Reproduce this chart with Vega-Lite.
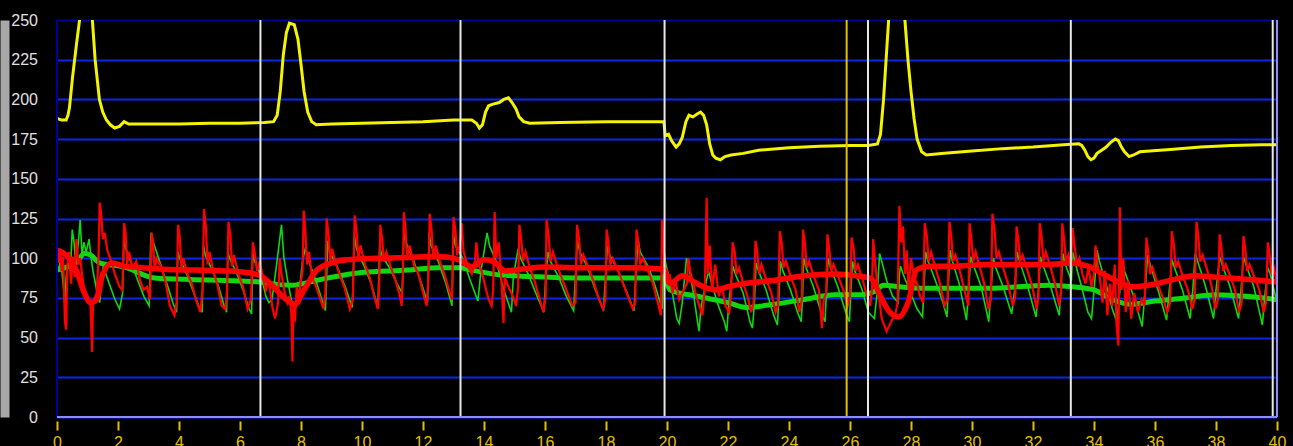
{
  "$schema": "https://vega.github.io/schema/vega-lite/v6.json",
  "width": 1220,
  "height": 397,
  "autosize": "none",
  "padding": {"left": 57, "top": 20, "right": 16, "bottom": 29},
  "background": "#000000",
  "config": {"view": {"stroke": null, "fill": "#000000"}},
  "datasets": {
    "vw": [{"x": 6.67}, {"x": 13.23}, {"x": 19.92}, {"x": 26.59}, {"x": 33.24}, {"x": 39.86}],
    "vy": [{"x": 25.89}],
    "lb": [{"x": 0}],
    "rb": [{"x": 40}],
    "bb": [{"v": 0}],
    "yel": [
      {"x":0,"v":188},{"x":0.15,"v":187},{"x":0.3,"v":187},{"x":0.36,"v":190},{"x":0.41,"v":195},{"x":0.51,"v":214},{"x":0.64,"v":235},{"x":0.74,"v":250},{"x":0.85,"v":278},{"x":0.95,"v":290},{"x":1.05,"v":278},{"x":1.16,"v":250},{"x":1.25,"v":225},{"x":1.39,"v":200},{"x":1.5,"v":192},{"x":1.62,"v":187},{"x":1.75,"v":184},{"x":1.89,"v":182},{"x":2.05,"v":183},{"x":2.2,"v":186},{"x":2.35,"v":184.5},{"x":3,"v":184.5},{"x":4,"v":184.5},{"x":5,"v":185},{"x":6,"v":185},{"x":6.8,"v":185.5},{"x":7.1,"v":186},{"x":7.22,"v":190},{"x":7.32,"v":205},{"x":7.42,"v":228},{"x":7.52,"v":242},{"x":7.62,"v":248},{"x":7.78,"v":247},{"x":7.9,"v":238},{"x":8.0,"v":222},{"x":8.1,"v":205},{"x":8.22,"v":192},{"x":8.35,"v":186},{"x":8.5,"v":184},{"x":9,"v":184.5},{"x":10,"v":185},{"x":11,"v":185.5},{"x":12,"v":186},{"x":13,"v":187},{"x":13.6,"v":187},{"x":13.75,"v":185},{"x":13.85,"v":182},{"x":13.95,"v":184},{"x":14.05,"v":192},{"x":14.15,"v":196},{"x":14.3,"v":197},{"x":14.5,"v":198},{"x":14.65,"v":200},{"x":14.8,"v":201},{"x":14.92,"v":198},{"x":15.05,"v":194},{"x":15.15,"v":189},{"x":15.3,"v":186},{"x":15.5,"v":185},{"x":16.5,"v":185.5},{"x":18,"v":186},{"x":19.9,"v":186},{"x":19.94,"v":177},{"x":20.05,"v":178},{"x":20.15,"v":174},{"x":20.3,"v":170},{"x":20.4,"v":172},{"x":20.5,"v":176},{"x":20.62,"v":186},{"x":20.72,"v":190},{"x":20.85,"v":189},{"x":21.0,"v":191},{"x":21.1,"v":192},{"x":21.2,"v":190},{"x":21.3,"v":184},{"x":21.4,"v":172},{"x":21.5,"v":165},{"x":21.6,"v":163},{"x":21.75,"v":162},{"x":21.9,"v":164},{"x":22.1,"v":165},{"x":22.5,"v":166},{"x":23,"v":168},{"x":24,"v":169.5},{"x":25,"v":170.5},{"x":26,"v":171},{"x":26.6,"v":171},{"x":26.9,"v":172},{"x":27.0,"v":178},{"x":27.1,"v":200},{"x":27.2,"v":230},{"x":27.3,"v":260},{"x":27.5,"v":290},{"x":27.7,"v":270},{"x":27.8,"v":250},{"x":27.9,"v":225},{"x":28.0,"v":205},{"x":28.1,"v":188},{"x":28.2,"v":175},{"x":28.35,"v":167},{"x":28.5,"v":165},{"x":29,"v":166},{"x":30,"v":167.5},{"x":31,"v":169},{"x":32,"v":170},{"x":33,"v":171.5},{"x":33.5,"v":172},{"x":33.6,"v":171},{"x":33.7,"v":168},{"x":33.8,"v":164},{"x":33.9,"v":162},{"x":34.0,"v":163},{"x":34.1,"v":166},{"x":34.25,"v":168},{"x":34.4,"v":170},{"x":34.55,"v":173},{"x":34.7,"v":175},{"x":34.8,"v":174},{"x":34.9,"v":170},{"x":35.0,"v":167},{"x":35.15,"v":164},{"x":35.3,"v":165},{"x":35.5,"v":167},{"x":36.5,"v":168.5},{"x":37.5,"v":170},{"x":38.5,"v":171},{"x":39.5,"v":171.5},{"x":40,"v":171.5}
    ],
    "rk": [
      {"x":0,"v":105},{"x":0.3,"v":102},{"x":0.6,"v":94},{"x":0.9,"v":78},{"x":1.1,"v":72},{"x":1.3,"v":74},{"x":1.5,"v":90},{"x":1.8,"v":97},{"x":2.2,"v":95},{"x":2.8,"v":94},{"x":3.5,"v":93},{"x":4.5,"v":92.5},{"x":5.5,"v":92},{"x":6.2,"v":91},{"x":6.67,"v":89},{"x":7.0,"v":84},{"x":7.4,"v":76},{"x":7.8,"v":71},{"x":8.1,"v":80},{"x":8.5,"v":92},{"x":9.0,"v":97},{"x":9.5,"v":99},{"x":10.5,"v":100},{"x":11.5,"v":100.5},{"x":12.5,"v":101},{"x":13.2,"v":99},{"x":13.6,"v":94.5},{"x":14.0,"v":99},{"x":14.3,"v":98},{"x":14.7,"v":92},{"x":15.2,"v":93},{"x":16,"v":94.5},{"x":17,"v":94},{"x":18,"v":94},{"x":19,"v":94},{"x":19.9,"v":93},{"x":20.1,"v":84},{"x":20.5,"v":89},{"x":20.8,"v":86},{"x":21.2,"v":82},{"x":21.6,"v":80},{"x":22.0,"v":82},{"x":22.5,"v":84},{"x":23.5,"v":86},{"x":24.5,"v":89},{"x":25.5,"v":90},{"x":26.2,"v":89},{"x":26.7,"v":87},{"x":27.0,"v":76},{"x":27.3,"v":66},{"x":27.6,"v":63},{"x":27.9,"v":72},{"x":28.2,"v":93},{"x":28.6,"v":95},{"x":29.5,"v":95},{"x":30.5,"v":96},{"x":31.5,"v":96},{"x":32.5,"v":96},{"x":33.2,"v":97},{"x":33.8,"v":95},{"x":34.3,"v":90},{"x":34.7,"v":86},{"x":35.2,"v":82},{"x":35.8,"v":83},{"x":36.5,"v":86},{"x":37.3,"v":89},{"x":38.0,"v":88},{"x":38.8,"v":87},{"x":39.5,"v":86},{"x":40,"v":85}
    ],
    "gk": [
      {"x":0,"v":92.5},{"x":0.4,"v":95},{"x":0.65,"v":97.5},{"x":0.9,"v":103},{"x":1.1,"v":102},{"x":1.4,"v":97},{"x":2.2,"v":94.5},{"x":3.2,"v":87.5},{"x":4.5,"v":86.5},{"x":5.5,"v":86},{"x":6.67,"v":85},{"x":7.0,"v":84},{"x":7.7,"v":83},{"x":8.5,"v":86},{"x":9.0,"v":88},{"x":10.0,"v":91},{"x":11.5,"v":92.5},{"x":12.5,"v":94},{"x":13.2,"v":94},{"x":13.6,"v":92.5},{"x":14.5,"v":89.5},{"x":15.5,"v":88.5},{"x":17,"v":87.5},{"x":19.9,"v":87.5},{"x":20.1,"v":80},{"x":21.0,"v":76},{"x":22.0,"v":72},{"x":22.6,"v":69},{"x":23.5,"v":71},{"x":24.5,"v":74},{"x":25.5,"v":77},{"x":26.4,"v":77},{"x":26.8,"v":79},{"x":27.1,"v":83},{"x":27.6,"v":82},{"x":28.5,"v":81},{"x":30.5,"v":81},{"x":32.5,"v":83},{"x":33.3,"v":82},{"x":34.0,"v":80},{"x":34.6,"v":74},{"x":35.2,"v":71},{"x":36.0,"v":73},{"x":37.0,"v":75},{"x":38.0,"v":77},{"x":39.0,"v":76},{"x":40,"v":74}
    ],
    "rt": [
      {"x":0,"v":104},{"x":0.05,"v":97},{"x":0.1,"v":106},{"x":0.15,"v":92},{"x":0.2,"v":101},{"x":0.26,"v":60},{"x":0.3,"v":55},{"x":0.34,"v":96},{"x":0.4,"v":104},{"x":0.46,"v":84},{"x":0.52,"v":101},{"x":0.58,"v":88},{"x":0.64,"v":112},{"x":0.7,"v":96},{"x":0.76,"v":100},{"x":0.82,"v":90},{"x":0.88,"v":82},{"x":0.95,"v":78},{"x":1.02,"v":73},{"x":1.1,"v":70},{"x":1.15,"v":41},{"x":1.18,"v":72},{"x":1.3,"v":78},{"x":1.36,"v":100},{"x":1.4,"v":135},{"x":1.45,"v":128},{"x":1.5,"v":112},{"x":1.56,"v":116},{"x":1.65,"v":105},{"x":1.78,"v":98},{"x":1.9,"v":90},{"x":2.05,"v":82},{"x":2.14,"v":80},{"x":2.2,"v":122},{"x":2.25,"v":116},{"x":2.3,"v":96},{"x":2.36,"v":104},{"x":2.48,"v":94},{"x":2.6,"v":98},{"x":2.72,"v":86},{"x":2.84,"v":80},{"x":2.95,"v":82},{"x":3.05,"v":74},{"x":3.1,"v":116},{"x":3.15,"v":110},{"x":3.2,"v":92},{"x":3.26,"v":100},{"x":3.4,"v":95},{"x":3.55,"v":86},{"x":3.7,"v":70},{"x":3.85,"v":64},{"x":3.92,"v":72},{"x":3.97,"v":121},{"x":4.02,"v":114},{"x":4.08,"v":94},{"x":4.14,"v":100},{"x":4.28,"v":90},{"x":4.42,"v":84},{"x":4.55,"v":74},{"x":4.7,"v":66},{"x":4.77,"v":80},{"x":4.82,"v":131},{"x":4.88,"v":120},{"x":4.94,"v":96},{"x":5.0,"v":104},{"x":5.12,"v":92},{"x":5.25,"v":84},{"x":5.4,"v":70},{"x":5.52,"v":68},{"x":5.58,"v":80},{"x":5.62,"v":123},{"x":5.68,"v":115},{"x":5.74,"v":95},{"x":5.8,"v":102},{"x":5.95,"v":90},{"x":6.1,"v":82},{"x":6.25,"v":68},{"x":6.36,"v":74},{"x":6.42,"v":110},{"x":6.48,"v":104},{"x":6.56,"v":92},{"x":6.65,"v":98},
      {"x":6.75,"v":88},{"x":6.85,"v":80},{"x":6.95,"v":86},{"x":7.05,"v":70},{"x":7.15,"v":62},{"x":7.25,"v":72},{"x":7.3,"v":100},{"x":7.36,"v":90},{"x":7.45,"v":80},{"x":7.55,"v":72},{"x":7.62,"v":76},{"x":7.68,"v":66},{"x":7.72,"v":35},{"x":7.75,"v":70},{"x":7.8,"v":60},{"x":7.86,"v":82},{"x":7.92,"v":72},{"x":8.0,"v":86},{"x":8.05,"v":92},{"x":8.09,"v":130},{"x":8.14,"v":118},{"x":8.2,"v":96},{"x":8.26,"v":104},{"x":8.36,"v":88},{"x":8.5,"v":82},{"x":8.62,"v":75},{"x":8.74,"v":68},{"x":8.8,"v":78},{"x":8.84,"v":125},{"x":8.9,"v":116},{"x":8.96,"v":98},{"x":9.02,"v":106},{"x":9.15,"v":96},{"x":9.3,"v":88},{"x":9.45,"v":80},{"x":9.6,"v":68},{"x":9.7,"v":74},{"x":9.76,"v":127},{"x":9.82,"v":118},{"x":9.88,"v":100},{"x":9.95,"v":108},{"x":10.1,"v":96},{"x":10.25,"v":88},{"x":10.4,"v":76},{"x":10.52,"v":68},{"x":10.56,"v":80},{"x":10.6,"v":121},{"x":10.66,"v":112},{"x":10.72,"v":98},{"x":10.8,"v":104},{"x":10.95,"v":94},{"x":11.1,"v":86},{"x":11.22,"v":78},{"x":11.3,"v":70},{"x":11.34,"v":90},{"x":11.37,"v":129},{"x":11.42,"v":120},{"x":11.48,"v":100},{"x":11.56,"v":108},{"x":11.7,"v":96},{"x":11.85,"v":90},{"x":11.98,"v":80},{"x":12.12,"v":70},{"x":12.18,"v":88},{"x":12.22,"v":128},{"x":12.28,"v":118},{"x":12.34,"v":100},{"x":12.42,"v":108},{"x":12.55,"v":98},{"x":12.7,"v":90},{"x":12.85,"v":80},{"x":12.95,"v":74},{"x":13.0,"v":126},{"x":13.06,"v":118},{"x":13.12,"v":102},{"x":13.2,"v":108},{"x":13.27,"v":122},{"x":13.33,"v":104},{"x":13.45,"v":96},{"x":13.6,"v":90},{"x":13.7,"v":98},{"x":13.75,"v":110},{"x":13.82,"v":96},{"x":13.92,"v":92},{"x":14.02,"v":84},{"x":14.15,"v":74},{"x":14.25,"v":70},{"x":14.3,"v":80},{"x":14.35,"v":129},{"x":14.4,"v":100},{"x":14.48,"v":110},{"x":14.55,"v":94},{"x":14.64,"v":59},{"x":14.68,"v":88},{"x":14.8,"v":82},{"x":14.95,"v":76},{"x":15.05,"v":70},{"x":15.12,"v":82},{"x":15.16,"v":121},{"x":15.22,"v":112},{"x":15.28,"v":98},{"x":15.36,"v":104},{"x":15.5,"v":94},{"x":15.65,"v":86},{"x":15.8,"v":76},{"x":15.95,"v":66},{"x":16.02,"v":76},{"x":16.05,"v":124},{"x":16.12,"v":114},{"x":16.18,"v":98},{"x":16.26,"v":104},{"x":16.42,"v":94},{"x":16.58,"v":86},{"x":16.74,"v":78},{"x":16.9,"v":70},{"x":17.0,"v":72},{"x":17.05,"v":121},{"x":17.12,"v":112},{"x":17.18,"v":96},{"x":17.26,"v":102},{"x":17.42,"v":94},{"x":17.58,"v":86},{"x":17.74,"v":76},{"x":17.9,"v":68},{"x":17.98,"v":74},{"x":18.02,"v":118},{"x":18.08,"v":110},{"x":18.14,"v":96},{"x":18.22,"v":100},{"x":18.4,"v":92},{"x":18.56,"v":84},{"x":18.72,"v":76},{"x":18.88,"v":68},{"x":18.96,"v":72},{"x":19.0,"v":118},{"x":19.06,"v":110},{"x":19.12,"v":96},{"x":19.2,"v":100},{"x":19.38,"v":92},{"x":19.54,"v":84},{"x":19.7,"v":72},{"x":19.8,"v":64},{"x":19.84,"v":124},{"x":19.88,"v":110},{"x":19.92,"v":96},
      {"x":20.0,"v":84},{"x":20.08,"v":90},{"x":20.18,"v":78},{"x":20.28,"v":86},{"x":20.4,"v":74},{"x":20.55,"v":80},{"x":20.65,"v":84},{"x":20.7,"v":100},{"x":20.76,"v":92},{"x":20.86,"v":84},{"x":20.96,"v":76},{"x":21.06,"v":70},{"x":21.16,"v":64},{"x":21.24,"v":80},{"x":21.3,"v":138},{"x":21.34,"v":90},{"x":21.4,"v":108},{"x":21.48,"v":80},{"x":21.58,"v":96},{"x":21.7,"v":76},{"x":21.8,"v":82},{"x":21.92,"v":70},{"x":22.04,"v":66},{"x":22.1,"v":76},{"x":22.15,"v":110},{"x":22.22,"v":104},{"x":22.28,"v":90},{"x":22.36,"v":94},{"x":22.5,"v":84},{"x":22.64,"v":76},{"x":22.76,"v":66},{"x":22.84,"v":72},{"x":22.9,"v":111},{"x":22.96,"v":104},{"x":23.02,"v":90},{"x":23.1,"v":96},{"x":23.26,"v":86},{"x":23.42,"v":78},{"x":23.56,"v":66},{"x":23.64,"v":70},{"x":23.7,"v":117},{"x":23.76,"v":110},{"x":23.82,"v":94},{"x":23.9,"v":98},{"x":24.06,"v":88},{"x":24.22,"v":80},{"x":24.34,"v":66},{"x":24.42,"v":74},{"x":24.46,"v":118},{"x":24.52,"v":110},{"x":24.58,"v":94},{"x":24.66,"v":98},{"x":24.82,"v":88},{"x":24.98,"v":80},{"x":25.08,"v":56},{"x":25.14,"v":74},{"x":25.22,"v":78},{"x":25.26,"v":115},{"x":25.32,"v":106},{"x":25.38,"v":92},{"x":25.46,"v":96},{"x":25.62,"v":88},{"x":25.78,"v":80},{"x":25.92,"v":70},{"x":26.0,"v":76},{"x":26.05,"v":113},{"x":26.12,"v":106},{"x":26.18,"v":92},{"x":26.26,"v":96},{"x":26.42,"v":86},{"x":26.56,"v":76},{"x":26.66,"v":70},{"x":26.72,"v":80},{"x":26.76,"v":112},{"x":26.82,"v":98},{"x":26.88,"v":86},{"x":26.96,"v":74},{"x":27.04,"v":62},{"x":27.12,"v":58},{"x":27.2,"v":54},{"x":27.3,"v":58},{"x":27.4,"v":62},{"x":27.5,"v":66},{"x":27.56,"v":72},{"x":27.62,"v":133},{"x":27.68,"v":110},{"x":27.74,"v":120},{"x":27.8,"v":90},{"x":27.86,"v":105},{"x":27.92,"v":80},{"x":28.0,"v":100},{"x":28.1,"v":88},{"x":28.2,"v":84},{"x":28.3,"v":76},{"x":28.4,"v":72},{"x":28.45,"v":122},{"x":28.52,"v":114},{"x":28.58,"v":98},{"x":28.66,"v":104},{"x":28.8,"v":94},{"x":28.95,"v":84},{"x":29.1,"v":70},{"x":29.2,"v":74},{"x":29.26,"v":123},{"x":29.32,"v":114},{"x":29.38,"v":98},{"x":29.46,"v":102},{"x":29.6,"v":92},{"x":29.75,"v":80},{"x":29.88,"v":70},{"x":29.92,"v":122},{"x":29.98,"v":112},{"x":30.04,"v":98},{"x":30.12,"v":104},{"x":30.26,"v":94},{"x":30.4,"v":84},{"x":30.54,"v":68},{"x":30.62,"v":74},{"x":30.67,"v":128},{"x":30.74,"v":118},{"x":30.8,"v":100},{"x":30.88,"v":104},{"x":31.02,"v":94},{"x":31.18,"v":84},{"x":31.34,"v":70},{"x":31.42,"v":76},{"x":31.46,"v":120},{"x":31.52,"v":112},{"x":31.58,"v":98},{"x":31.66,"v":102},{"x":31.82,"v":92},{"x":31.98,"v":82},{"x":32.12,"v":68},{"x":32.18,"v":76},{"x":32.22,"v":122},{"x":32.28,"v":114},{"x":32.34,"v":98},{"x":32.42,"v":104},{"x":32.58,"v":94},{"x":32.72,"v":84},{"x":32.86,"v":70},{"x":32.92,"v":78},{"x":32.96,"v":122},{"x":33.02,"v":112},{"x":33.08,"v":98},{"x":33.16,"v":102},{"x":33.24,"v":92},{"x":33.3,"v":119},{"x":33.36,"v":108},{"x":33.44,"v":96},{"x":33.52,"v":100},{"x":33.62,"v":90},{"x":33.72,"v":84},{"x":33.82,"v":94},{"x":33.92,"v":82},{"x":34.0,"v":90},{"x":34.05,"v":108},{"x":34.12,"v":96},{"x":34.2,"v":86},{"x":34.28,"v":72},{"x":34.36,"v":92},{"x":34.44,"v":64},{"x":34.52,"v":84},{"x":34.6,"v":70},{"x":34.68,"v":96},{"x":34.74,"v":58},{"x":34.8,"v":45},{"x":34.85,"v":132},{"x":34.9,"v":80},{"x":34.96,"v":100},{"x":35.04,"v":66},{"x":35.12,"v":86},{"x":35.22,"v":62},{"x":35.32,"v":78},{"x":35.44,"v":66},{"x":35.56,"v":74},{"x":35.66,"v":70},{"x":35.72,"v":113},{"x":35.78,"v":104},{"x":35.84,"v":90},{"x":35.92,"v":94},{"x":36.08,"v":84},{"x":36.24,"v":76},{"x":36.4,"v":66},{"x":36.5,"v":72},{"x":36.55,"v":117},{"x":36.62,"v":108},{"x":36.68,"v":94},{"x":36.76,"v":98},{"x":36.92,"v":88},{"x":37.08,"v":80},{"x":37.22,"v":68},{"x":37.3,"v":74},{"x":37.36,"v":123},{"x":37.42,"v":114},{"x":37.48,"v":98},{"x":37.56,"v":102},{"x":37.72,"v":92},{"x":37.86,"v":82},{"x":37.98,"v":68},{"x":38.06,"v":74},{"x":38.12,"v":115},{"x":38.18,"v":106},{"x":38.24,"v":92},{"x":38.32,"v":96},{"x":38.48,"v":88},{"x":38.62,"v":80},{"x":38.76,"v":66},{"x":38.84,"v":72},{"x":38.9,"v":114},{"x":38.96,"v":106},{"x":39.02,"v":92},{"x":39.1,"v":96},{"x":39.26,"v":88},{"x":39.42,"v":80},{"x":39.56,"v":66},{"x":39.64,"v":72},{"x":39.7,"v":110},{"x":39.76,"v":102},{"x":39.82,"v":90},{"x":39.9,"v":94},{"x":40,"v":84}
    ],
    "gt": [
      {"x":0,"v":96},{"x":0.06,"v":92},{"x":0.12,"v":100},{"x":0.2,"v":84},{"x":0.26,"v":70},{"x":0.3,"v":88},{"x":0.38,"v":100},{"x":0.44,"v":92},{"x":0.5,"v":118},{"x":0.56,"v":110},{"x":0.62,"v":96},{"x":0.7,"v":110},{"x":0.76,"v":124},{"x":0.82,"v":102},{"x":0.88,"v":110},{"x":0.96,"v":104},{"x":1.05,"v":112},{"x":1.12,"v":100},{"x":1.18,"v":92},{"x":1.3,"v":80},{"x":1.4,"v":72},{"x":1.52,"v":96},{"x":1.6,"v":90},{"x":1.75,"v":82},{"x":1.9,"v":74},{"x":2.05,"v":68},{"x":2.15,"v":78},{"x":2.2,"v":113},{"x":2.26,"v":106},{"x":2.45,"v":96},{"x":2.65,"v":86},{"x":2.85,"v":76},{"x":3.02,"v":70},{"x":3.08,"v":116},{"x":3.16,"v":110},{"x":3.4,"v":96},{"x":3.6,"v":84},{"x":3.8,"v":72},{"x":3.92,"v":66},{"x":3.96,"v":104},{"x":4.02,"v":100},{"x":4.25,"v":90},{"x":4.45,"v":80},{"x":4.65,"v":70},{"x":4.76,"v":66},{"x":4.8,"v":108},{"x":4.86,"v":102},{"x":5.1,"v":92},{"x":5.3,"v":82},{"x":5.48,"v":70},{"x":5.56,"v":66},{"x":5.6,"v":104},{"x":5.66,"v":100},{"x":5.9,"v":90},{"x":6.1,"v":80},{"x":6.3,"v":68},{"x":6.38,"v":65},{"x":6.42,"v":103},{"x":6.48,"v":98},{"x":6.7,"v":88},{"x":6.85,"v":76},{"x":6.95,"v":72},{"x":7.05,"v":74},{"x":7.2,"v":96},{"x":7.36,"v":121},{"x":7.44,"v":100},{"x":7.56,"v":86},{"x":7.68,"v":74},{"x":7.8,"v":68},{"x":7.9,"v":72},{"x":8.05,"v":98},{"x":8.15,"v":107},{"x":8.22,"v":100},{"x":8.45,"v":88},{"x":8.65,"v":76},{"x":8.8,"v":67},{"x":8.88,"v":111},{"x":8.94,"v":104},{"x":9.2,"v":94},{"x":9.45,"v":82},{"x":9.68,"v":69},{"x":9.75,"v":114},{"x":9.82,"v":106},{"x":10.05,"v":96},{"x":10.3,"v":84},{"x":10.52,"v":69},{"x":10.58,"v":108},{"x":10.64,"v":102},{"x":10.9,"v":94},{"x":11.15,"v":84},{"x":11.32,"v":78},{"x":11.38,"v":118},{"x":11.44,"v":110},{"x":11.7,"v":98},{"x":11.95,"v":84},{"x":12.15,"v":72},{"x":12.2,"v":116},{"x":12.26,"v":108},{"x":12.5,"v":98},{"x":12.75,"v":84},{"x":12.95,"v":70},{"x":13.0,"v":115},{"x":13.06,"v":108},{"x":13.3,"v":100},{"x":13.55,"v":86},{"x":13.8,"v":73},{"x":13.9,"v":92},{"x":14.1,"v":116},{"x":14.18,"v":108},{"x":14.4,"v":98},{"x":14.65,"v":80},{"x":14.9,"v":66},{"x":14.96,"v":88},{"x":15.12,"v":106},{"x":15.2,"v":100},{"x":15.45,"v":90},{"x":15.7,"v":78},{"x":15.96,"v":66},{"x":16.02,"v":86},{"x":16.1,"v":104},{"x":16.18,"v":98},{"x":16.45,"v":88},{"x":16.7,"v":76},{"x":16.94,"v":67},{"x":17.0,"v":90},{"x":17.06,"v":111},{"x":17.14,"v":104},{"x":17.4,"v":94},{"x":17.65,"v":80},{"x":17.92,"v":67},{"x":17.98,"v":88},{"x":18.05,"v":108},{"x":18.12,"v":102},{"x":18.4,"v":92},{"x":18.65,"v":80},{"x":18.92,"v":67},{"x":18.98,"v":90},{"x":19.05,"v":112},{"x":19.12,"v":104},{"x":19.4,"v":94},{"x":19.62,"v":82},{"x":19.84,"v":68},{"x":19.9,"v":105},{"x":19.96,"v":96},{"x":20.1,"v":86},{"x":20.25,"v":70},{"x":20.32,"v":62},{"x":20.4,"v":59},{"x":20.5,"v":72},{"x":20.64,"v":100},{"x":20.7,"v":96},{"x":20.85,"v":80},{"x":21.0,"v":60},{"x":21.05,"v":54},{"x":21.12,"v":70},{"x":21.36,"v":92},{"x":21.44,"v":86},{"x":21.65,"v":72},{"x":21.88,"v":60},{"x":21.96,"v":54},{"x":22.02,"v":70},{"x":22.16,"v":95},{"x":22.24,"v":90},{"x":22.5,"v":78},{"x":22.72,"v":60},{"x":22.8,"v":56},{"x":22.86,"v":70},{"x":22.92,"v":97},{"x":23.0,"v":92},{"x":23.25,"v":80},{"x":23.5,"v":64},{"x":23.62,"v":58},{"x":23.66,"v":72},{"x":23.72,"v":98},{"x":23.8,"v":92},{"x":24.05,"v":80},{"x":24.28,"v":66},{"x":24.4,"v":60},{"x":24.44,"v":74},{"x":24.48,"v":100},{"x":24.56,"v":94},{"x":24.8,"v":82},{"x":25.05,"v":66},{"x":25.18,"v":60},{"x":25.22,"v":76},{"x":25.28,"v":100},{"x":25.36,"v":94},{"x":25.6,"v":82},{"x":25.86,"v":66},{"x":25.98,"v":60},{"x":26.02,"v":76},{"x":26.08,"v":98},{"x":26.16,"v":92},{"x":26.4,"v":80},{"x":26.6,"v":66},{"x":26.8,"v":62},{"x":26.9,"v":80},{"x":26.97,"v":103},{"x":27.04,"v":98},{"x":27.2,"v":86},{"x":27.4,"v":76},{"x":27.58,"v":72},{"x":27.62,"v":90},{"x":27.66,"v":95},{"x":27.74,"v":90},{"x":27.95,"v":80},{"x":28.2,"v":68},{"x":28.38,"v":63},{"x":28.42,"v":80},{"x":28.48,"v":104},{"x":28.56,"v":98},{"x":28.8,"v":86},{"x":29.05,"v":72},{"x":29.18,"v":63},{"x":29.22,"v":82},{"x":29.28,"v":105},{"x":29.36,"v":98},{"x":29.58,"v":84},{"x":29.82,"v":61},{"x":29.88,"v":78},{"x":29.96,"v":101},{"x":30.04,"v":96},{"x":30.3,"v":82},{"x":30.55,"v":60},{"x":30.62,"v":80},{"x":30.7,"v":100},{"x":30.78,"v":94},{"x":31.02,"v":82},{"x":31.3,"v":65},{"x":31.4,"v":80},{"x":31.48,"v":104},{"x":31.56,"v":98},{"x":31.8,"v":84},{"x":32.1,"v":63},{"x":32.18,"v":80},{"x":32.24,"v":101},{"x":32.32,"v":96},{"x":32.58,"v":82},{"x":32.86,"v":64},{"x":32.92,"v":82},{"x":32.98,"v":103},{"x":33.06,"v":96},{"x":33.26,"v":86},{"x":33.3,"v":104},{"x":33.4,"v":96},{"x":33.62,"v":80},{"x":33.8,"v":66},{"x":33.92,"v":62},{"x":34.02,"v":84},{"x":34.1,"v":105},{"x":34.18,"v":98},{"x":34.42,"v":82},{"x":34.6,"v":68},{"x":34.75,"v":60},{"x":34.85,"v":80},{"x":34.92,"v":98},{"x":35.0,"v":92},{"x":35.3,"v":76},{"x":35.58,"v":57},{"x":35.66,"v":76},{"x":35.76,"v":102},{"x":35.84,"v":96},{"x":36.1,"v":80},{"x":36.38,"v":61},{"x":36.46,"v":78},{"x":36.56,"v":99},{"x":36.64,"v":94},{"x":36.9,"v":80},{"x":37.15,"v":62},{"x":37.24,"v":80},{"x":37.32,"v":103},{"x":37.4,"v":98},{"x":37.66,"v":82},{"x":37.92,"v":62},{"x":38.0,"v":80},{"x":38.12,"v":101},{"x":38.2,"v":96},{"x":38.46,"v":82},{"x":38.74,"v":62},{"x":38.82,"v":80},{"x":38.9,"v":101},{"x":38.98,"v":96},{"x":39.24,"v":82},{"x":39.52,"v":58},{"x":39.6,"v":76},{"x":39.7,"v":94},{"x":39.78,"v":90},{"x":39.9,"v":80},{"x":40,"v":72}
    ]
  },
  "layer": [
    {"data": {"name": "gt"}, "mark": {"type": "line", "color": "#10d810", "strokeWidth": 1.6, "clip": true},
     "encoding": {
       "x": {"field": "x", "type": "quantitative", "title": null,
         "scale": {"domain": [0, 40], "nice": false, "zero": false},
         "axis": {"orient": "bottom", "offset": 4, "title": null, "values": [0,2,4,6,8,10,12,14,16,18,20,22,24,26,28,30,32,34,36,38,40], "tickCount": 21, "format": "d", "domain": false, "grid": false, "ticks": true, "tickColor": "#e0c000", "tickSize": 9, "tickWidth": 2, "labelColor": "#e0c000", "labelFontSize": 16, "labelFont": "Liberation Sans", "labelPadding": 4, "labelFlush": false, "labelOverlap": false}},
       "y": {"field": "v", "type": "quantitative", "title": null,
         "scale": {"domain": [0, 250], "nice": false, "zero": false},
         "axis": {"orient": "left", "offset": 52.5, "title": null, "values": [0,25,50,75,100,125,150,175,200,225,250], "tickCount": 11, "format": "d", "domain": true, "domainColor": "#a8a8a8", "domainWidth": 9, "ticks": false, "tickSize": 0, "labelPadding": -33, "labelAlign": "right", "labelColor": "#e0e0e0", "labelFontSize": 16, "labelFont": "Liberation Sans", "labelOverlap": false, "grid": true, "gridColor": {"condition": {"test": "datum.value === 250", "value": "#00009a"}, "value": "#0a28e8"}, "gridWidth": 2}}
     }},
    {"data": {"name": "gk"}, "mark": {"type": "line", "color": "#10d810", "strokeWidth": 5, "interpolate": "monotone", "clip": true},
     "encoding": {
       "x": {"field": "x", "type": "quantitative", "title": null, "scale": {"domain": [0, 40], "nice": false, "zero": false}},
       "y": {"field": "v", "type": "quantitative", "title": null, "scale": {"domain": [0, 250], "nice": false, "zero": false}}
     }},
    {"data": {"name": "rt"}, "mark": {"type": "line", "color": "#ff0000", "strokeWidth": 2.2, "clip": true},
     "encoding": {
       "x": {"field": "x", "type": "quantitative", "title": null, "scale": {"domain": [0, 40], "nice": false, "zero": false}},
       "y": {"field": "v", "type": "quantitative", "title": null, "scale": {"domain": [0, 250], "nice": false, "zero": false}}
     }},
    {"data": {"name": "rk"}, "mark": {"type": "line", "color": "#ff0000", "strokeWidth": 5.5, "interpolate": "monotone", "clip": true},
     "encoding": {
       "x": {"field": "x", "type": "quantitative", "title": null, "scale": {"domain": [0, 40], "nice": false, "zero": false}},
       "y": {"field": "v", "type": "quantitative", "title": null, "scale": {"domain": [0, 250], "nice": false, "zero": false}}
     }},
    {"data": {"name": "yel"}, "mark": {"type": "line", "color": "#f4f400", "strokeWidth": 3, "clip": true},
     "encoding": {
       "x": {"field": "x", "type": "quantitative", "title": null, "scale": {"domain": [0, 40], "nice": false, "zero": false}},
       "y": {"field": "v", "type": "quantitative", "title": null, "scale": {"domain": [0, 250], "nice": false, "zero": false}}
     }},
    {"data": {"name": "vw"}, "mark": {"type": "rule", "color": "#e8e8e8", "strokeWidth": 2},
     "encoding": {
       "x": {"field": "x", "type": "quantitative", "title": null, "scale": {"domain": [0, 40], "nice": false, "zero": false}}
     }},
    {"data": {"name": "vy"}, "mark": {"type": "rule", "color": "#e0c000", "strokeWidth": 2},
     "encoding": {
       "x": {"field": "x", "type": "quantitative", "title": null, "scale": {"domain": [0, 40], "nice": false, "zero": false}}
     }},
    {"data": {"name": "lb"}, "mark": {"type": "rule", "color": "#00009a", "strokeWidth": 2},
     "encoding": {
       "x": {"field": "x", "type": "quantitative", "title": null, "scale": {"domain": [0, 40], "nice": false, "zero": false}}
     }},
    {"data": {"name": "rb"}, "mark": {"type": "rule", "color": "#8c8cff", "strokeWidth": 2},
     "encoding": {
       "x": {"field": "x", "type": "quantitative", "title": null, "scale": {"domain": [0, 40], "nice": false, "zero": false}}
     }},
    {"data": {"name": "bb"}, "mark": {"type": "rule", "color": "#8c8cff", "strokeWidth": 2},
     "encoding": {
       "y": {"field": "v", "type": "quantitative", "title": null, "scale": {"domain": [0, 250], "nice": false, "zero": false}}
     }}
  ]
}
